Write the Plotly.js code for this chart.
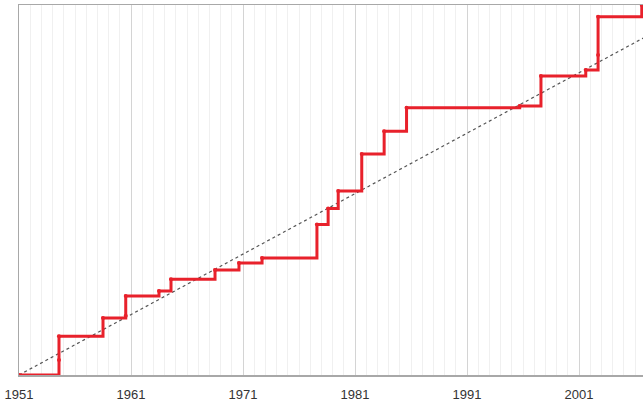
<!DOCTYPE html>
<html>
<head>
<meta charset="utf-8">
<script src="https://cdn.plot.ly/plotly-3.0.1.min.js"></script>
<style>html,body{margin:0;padding:0;background:#fff;}#chart{width:643px;height:403px;}</style>
</head>
<body>
<div id="chart"></div>
<script>
// Step series (year, cumulative value)
const stepYears  = [1951.0, 1954.57, 1954.57, 1958.5, 1960.53, 1960.53, 1963.5, 1964.57, 1968.5, 1970.64, 1972.7, 1977.6, 1978.6, 1979.5, 1981.6, 1983.6, 1985.6, 1995.7, 1997.6, 2001.6, 2002.7, 2002.7, 2006.6];
const stepValues = [0, 4.05, 10.5, 15.4, 16.0, 21.35, 22.7, 25.9, 28.4, 30.3, 31.6, 40.7, 45.0, 49.7, 59.7, 65.9, 72.2, 72.7, 80.8, 82.4, 86.5, 96.8, 100];
// Trend line endpoints
const trendYears  = [1951, 2007];
const trendValues = [0, 91.5];
// X tick labels
const tickYears = [1951, 1961, 1971, 1981, 1991, 2001];
const tickLabels = ['1951', '1961', '1971', '1981', '1991', '2001'];

const traces = [
  {
    x: trendYears, y: trendValues, mode: 'lines', type: 'scatter',
    line: {color: '#555555', width: 1.2, dash: 'dot'}, hoverinfo: 'skip'
  },
  {
    x: stepYears, y: stepValues, mode: 'lines+markers', type: 'scatter',
    line: {color: '#e8212b', width: 3, shape: 'hv'},
    marker: {color: '#e8212b', size: 4}
  }
];

const layout = {
  width: 643, height: 403,
  margin: {l: 19, r: 0, t: 5, b: 28},
  paper_bgcolor: '#ffffff', plot_bgcolor: '#ffffff',
  showlegend: false,
  xaxis: {
    range: [1951, 2006.71],
    tickmode: 'array', tickvals: tickYears, ticktext: tickLabels,
    showgrid: true, gridcolor: '#d4d4d4', gridwidth: 1,
    minor: {dtick: 1, tick0: 1951, showgrid: true, gridcolor: '#f0f0f0', gridwidth: 1},
    showline: true, linecolor: '#a8a8a8', linewidth: 1.5, mirror: true,
    zeroline: false, ticks: '', ticklabelstandoff: 7,
    tickfont: {family: 'Liberation Sans, Arial, sans-serif', size: 13, color: '#333333'}
  },
  yaxis: {
    range: [0, 100],
    showgrid: false, zeroline: false, showticklabels: false, ticks: '',
    showline: true, linecolor: '#a8a8a8', linewidth: 1.5, mirror: true
  }
};

Plotly.newPlot('chart', traces, layout, {displayModeBar: false, staticPlot: true});
</script>
</body>
</html>
